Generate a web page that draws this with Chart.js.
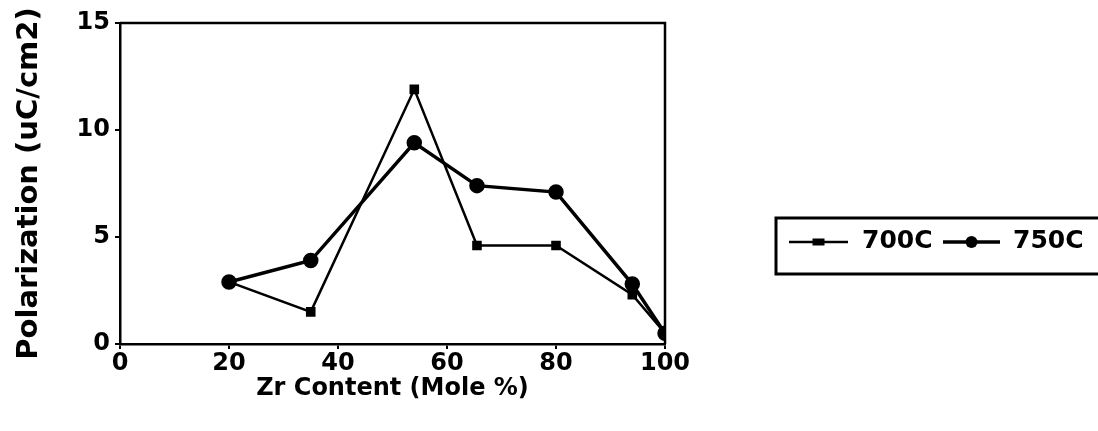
<!DOCTYPE html>
<html>
<head>
<meta charset="utf-8">
<script src="https://cdn.jsdelivr.net/npm/chart.js@4/dist/chart.umd.min.js"></script>
<style>
  html, body { margin: 0; padding: 0; background: #fff; }
  #wrap { width: 1098px; height: 431px; }
</style>
</head>
<body>
<div id="wrap"><canvas id="chart" width="1098" height="431"></canvas></div>
<script>
const zrContent = [20, 35, 54, 65.5, 80, 94, 100];
const pol700 = [2.9, 1.5, 11.9, 4.6, 4.6, 2.3, 0.5];
const pol750 = [2.9, 3.9, 9.4, 7.4, 7.1, 2.8, 0.5];
const seriesNames = ["700C", "750C"];
const xTicks = [0, 20, 40, 60, 80, 100];
const yTicks = [0, 5, 10, 15];

const ink = "#000";
const font = "'DejaVu Sans', sans-serif";

const toPoints = (ys) => ys.map((y, i) => ({ x: zrContent[i], y: y }));

// box around plot area and the legend at the right
const framePlugin = {
  id: "frame",
  afterDraw(chart) {
    const ctx = chart.ctx;
    const a = chart.chartArea;
    ctx.save();
    ctx.strokeStyle = ink;
    ctx.lineWidth = 2.5;
    ctx.beginPath();
    ctx.moveTo(a.left, a.top);
    ctx.lineTo(a.right, a.top);
    ctx.lineTo(a.right, a.bottom);
    ctx.stroke();

    // legend
    ctx.lineWidth = 3;
    ctx.strokeRect(776, 218, 330, 56);
    const items = [
      { x0: 789, x1: 848, tx: 862 },
      { x0: 943, x1: 1000, tx: 1013 },
    ];
    chart.data.datasets.forEach((ds, i) => {
      const it = items[i];
      const y = 242;
      ctx.strokeStyle = ink;
      ctx.lineWidth = ds.borderWidth;
      ctx.beginPath();
      ctx.moveTo(it.x0, y);
      ctx.lineTo(it.x1, y);
      ctx.stroke();
      ctx.fillStyle = ink;
      const cx = (it.x0 + it.x1) / 2;
      if (ds.pointStyle === "rect") {
        ctx.fillRect(cx - 6, y - 3.5, 12, 7);
      } else {
        ctx.beginPath();
        ctx.arc(cx, y, 6, 0, Math.PI * 2);
        ctx.fill();
      }
      ctx.font = "bold 25px " + font;
      ctx.textBaseline = "middle";
      ctx.fillText(ds.label, it.tx, y - 1);
    });
    ctx.restore();
  },
};

new Chart(document.getElementById("chart").getContext("2d"), {
  type: "line",
  data: {
    datasets: [
      {
        label: seriesNames[0],
        data: toPoints(pol700),
        borderColor: ink,
        backgroundColor: ink,
        borderWidth: 2.5,
        pointStyle: "rect",
        pointRadius: 5,
        tension: 0,
      },
      {
        label: seriesNames[1],
        data: toPoints(pol750),
        borderColor: ink,
        backgroundColor: ink,
        borderWidth: 3.5,
        pointStyle: "circle",
        pointRadius: 6,
        tension: 0,
      },
    ],
  },
  options: {
    responsive: false,
    animation: false,
    layout: { padding: { left: 0, top: 23, right: 433, bottom: 0 } },
    plugins: {
      legend: { display: false },
      tooltip: { enabled: false },
    },
    scales: {
      x: {
        type: "linear",
        min: 0,
        max: 100,
        afterBuildTicks: (s) => { s.ticks = xTicks.map((v) => ({ value: v })); },
        afterFit: (s) => { s.height = 87; },
        grid: { drawOnChartArea: false, color: ink, lineWidth: 2, tickLength: 5 },
        border: { color: ink, width: 2.5 },
        ticks: { color: ink, padding: 0, maxRotation: 0, font: { family: font, size: 24, weight: "bold" } },
        title: {
          display: true,
          text: "Zr Content (Mole %)",
          color: ink,
          padding: { top: 0, bottom: 28 },
          font: { family: font, size: 24, weight: "bold" },
        },
      },
      y: {
        min: 0,
        max: 15,
        afterBuildTicks: (s) => { s.ticks = yTicks.map((v) => ({ value: v })); },
        afterFit: (s) => { s.width = 120; },
        grid: { drawOnChartArea: false, color: ink, lineWidth: 2, tickLength: 5 },
        border: { color: ink, width: 2.5 },
        ticks: { color: ink, padding: 5, font: { family: font, size: 24, weight: "bold" } },
        title: {
          display: true,
          text: "Polarization (uC/cm2)",
          color: ink,
          padding: { top: 12, bottom: 0 },
          font: { family: font, size: 29, weight: "bold" },
        },
      },
    },
  },
  plugins: [framePlugin],
});
</script>
</body>
</html>
